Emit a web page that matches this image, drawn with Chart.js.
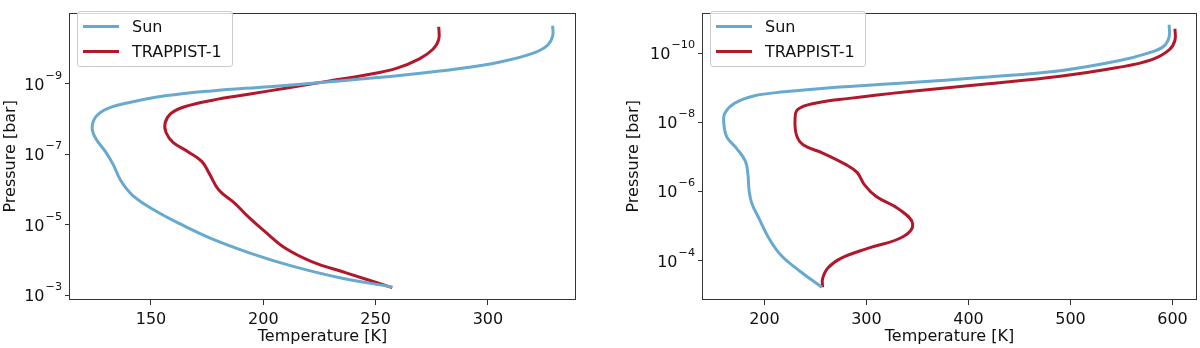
<!DOCTYPE html>
<html>
<head>
<meta charset="utf-8">
<script src="https://cdn.jsdelivr.net/npm/chart.js@4.4.1/dist/chart.umd.min.js"></script>
<style>
  body { margin: 0; background: #fff; }
  #wrap { position: relative; width: 1200px; height: 348px; }
  canvas { position: absolute; top: 0; }
  .legend {
    position: absolute; background: rgba(255,255,255,0.8);
    border: 1px solid #cccccc; border-radius: 3px;
    font-family: 'DejaVu Sans', sans-serif; font-size: 16px; color: #111;
    box-sizing: border-box; width: 156px; height: 56px;
  }
  .row { position: absolute; left: 5px; height: 20px; display: flex; align-items: center; }
  .row span.h { display: inline-block; width: 36px; height: 3px; margin-right: 13px; }
</style>
</head>
<body>
<div id="wrap">
  <canvas id="left" width="600" height="348" style="left:0"></canvas>
  <canvas id="right" width="600" height="348" style="left:600px"></canvas>
  <div class="legend" style="left:77px; top:11px">
    <div class="row" style="top:4px"><span class="h" style="background:#67a9cf"></span>Sun</div>
    <div class="row" style="top:29px"><span class="h" style="background:#b2182b"></span>TRAPPIST-1</div>
  </div>
  <div class="legend" style="left:710px; top:11px">
    <div class="row" style="top:4px"><span class="h" style="background:#67a9cf"></span>Sun</div>
    <div class="row" style="top:29px"><span class="h" style="background:#b2182b"></span>TRAPPIST-1</div>
  </div>
</div>
<script>
// left panel: temperature [K] and log10 pressure [bar]
const leftSunT = [328.8, 328.8, 326.1, 319.2, 305.4, 288.4, 262.7, 228.3, 202.6, 176.9, 156.3, 140.9, 130.6, 125.5, 123.8, 125.5, 129.8, 133.2, 136.6, 141.8, 151.2, 163.2, 176.9, 194.1, 212.9, 233.5, 257.4];
const leftSunLogP = [-10.65, -10.35, -10.07, -9.85, -9.62, -9.44, -9.25, -9.05, -8.92, -8.80, -8.66, -8.48, -8.30, -8.07, -7.75, -7.44, -7.07, -6.71, -6.25, -5.84, -5.43, -5.02, -4.61, -4.20, -3.83, -3.51, -3.24];
const leftTrapT = [278.1, 278.1, 275.5, 269.5, 259.2, 245.5, 228.3, 211.2, 194.1, 176.9, 164.9, 158.9, 156.3, 156.7, 159.8, 166.6, 172.6, 176.1, 180.3, 187.2, 193.0, 200.9, 209.5, 221.5, 236.9, 257.4];
const leftTrapLogP = [-10.62, -10.26, -9.98, -9.71, -9.44, -9.25, -9.07, -8.89, -8.71, -8.53, -8.35, -8.16, -7.89, -7.62, -7.34, -7.07, -6.80, -6.44, -5.98, -5.62, -5.25, -4.80, -4.35, -3.96, -3.64, -3.22];

// right panel
const rightSunT = [596.7, 596.7, 591.1, 576.1, 546.1, 489.8, 414.6, 339.6, 264.5, 219.5, 189.4, 170.7, 161.3, 160.1, 163.2, 172.5, 181.2, 183.8, 184.9, 187.6, 195.0, 204.5, 215.8, 234.5, 256.3];
const rightSunLogP = [-10.82, -10.47, -10.19, -10.0, -9.77, -9.49, -9.30, -9.14, -9.00, -8.88, -8.76, -8.55, -8.27, -8.0, -7.57, -7.25, -6.88, -6.50, -6.04, -5.66, -5.20, -4.64, -4.17, -3.70, -3.23];
const rightTrapT = [602.4, 602.4, 596.7, 579.8, 546.1, 489.8, 414.6, 339.6, 283.3, 249.5, 232.7, 230.0, 231.5, 238.3, 257.0, 279.5, 290.8, 298.3, 309.6, 332.1, 345.3, 335.8, 302.0, 275.8, 262.6, 257.0, 257.0];
const rightTrapLogP = [-10.70, -10.37, -10.09, -9.81, -9.58, -9.33, -9.10, -8.88, -8.69, -8.55, -8.37, -8.09, -7.62, -7.34, -7.11, -6.78, -6.55, -6.18, -5.85, -5.48, -5.06, -4.69, -4.36, -4.08, -3.80, -3.48, -3.23];

const leftXTicks = [150, 200, 250, 300];
const leftYTicks = [1e-9, 1e-7, 1e-5, 1e-3];
const rightXTicks = [200, 300, 400, 500, 600];
const rightYTicks = [1e-10, 1e-8, 1e-6, 1e-4];

const seriesNames = ['Sun', 'TRAPPIST-1'];
const seriesColors = ['#67a9cf', '#b2182b'];

const FONT = "'DejaVu Sans', sans-serif";
Chart.defaults.font.family = FONT;
Chart.defaults.font.size = 16;
Chart.defaults.color = '#111';

const sup = {'-': '\u207B', '0': '\u2070', '1': '\u00B9', '2': '\u00B2', '3': '\u00B3', '4': '\u2074',
  '5': '\u2075', '6': '\u2076', '7': '\u2077', '8': '\u2078', '9': '\u2079'};

function toPoints(ts, logs) {
  return ts.map((t, i) => ({x: t, y: Math.pow(10, logs[i])}));
}

const framePlugin = {
  id: 'frame',
  afterDraw(chart) {
    const a = chart.chartArea, ctx = chart.ctx;
    ctx.save();
    ctx.strokeStyle = '#333';
    ctx.lineWidth = 1;
    ctx.strokeRect(Math.round(a.left) + 0.5, Math.round(a.top) + 0.5,
      Math.round(a.right - a.left) - 1, Math.round(a.bottom - a.top) - 1);
    ctx.restore();
  }
};

// y tick labels drawn like matplotlib mathtext: "10" plus a raised, smaller exponent
const powerLabels = {
  id: 'powerLabels',
  afterDraw(chart) {
    const ctx = chart.ctx, y = chart.scales.y, right = chart.chartArea.left - 7;
    ctx.save();
    ctx.fillStyle = '#111';
    ctx.textBaseline = 'alphabetic';
    ctx.textAlign = 'left';
    y.ticks.forEach(t => {
      const py = y.getPixelForValue(t.value);
      const exp = String(Math.round(Math.log10(t.value))).replace('-', '\u2212');
      ctx.font = '11.2px ' + FONT;
      const we = ctx.measureText(exp).width;
      ctx.font = '16px ' + FONT;
      const wb = ctx.measureText('10').width;
      const x0 = right - we - wb - 1;
      ctx.fillText('10', x0, py + 6);
      ctx.font = '11.2px ' + FONT;
      ctx.fillText(exp, x0 + wb + 1, py - 5);
    });
    ctx.restore();
  }
};

function makeChart(id, sun, trap, xr, yr, xTicks, yTicks, pad, yWidth) {
  new Chart(document.getElementById(id), {
    type: 'scatter',
    data: {
      datasets: [sun, trap].map((d, i) => ({
        label: seriesNames[i],
        data: d,
        showLine: true,
        borderColor: seriesColors[i],
        borderWidth: 3,
        pointRadius: 0,
        tension: 0.4,
        fill: false
      }))
    },
    options: {
      responsive: false,
      animation: false,
      layout: {padding: pad},
      plugins: {legend: {display: false}, tooltip: {enabled: false}},
      scales: {
        x: {
          type: 'linear', min: xr[0], max: xr[1],
          afterBuildTicks: s => { s.ticks = xTicks.map(v => ({value: v})); },
          afterFit: s => { s.height = 48; },
          grid: {drawOnChartArea: false, drawTicks: true, tickLength: 5, color: '#333'},
          border: {display: false},
          ticks: {padding: 5, maxRotation: 0, callback: v => String(v)},
          title: {display: true, text: 'Temperature [K]', padding: {top: 0, bottom: 2}}
        },
        y: {
          type: 'logarithmic', reverse: true, min: yr[0], max: yr[1],
          afterBuildTicks: s => { s.ticks = yTicks.map(v => ({value: v})); },
          afterFit: s => { s.width = yWidth; },
          grid: {drawOnChartArea: false, drawTicks: true, tickLength: 4, color: '#333'},
          border: {display: false},
          ticks: {
            padding: 3,
            color: 'rgba(0,0,0,0)',
            callback: v => '10' + String(Math.round(Math.log10(v))).split('').map(c => sup[c]).join('')
          },
          title: {display: true, text: 'Pressure [bar]', padding: {top: 1, bottom: 0}}
        }
      }
    },
    plugins: [framePlugin, powerLabels]
  });
}

makeChart('left', toPoints(leftSunT, leftSunLogP), toPoints(leftTrapT, leftTrapLogP),
  [113.5, 339.2], [Math.pow(10, -11.02), Math.pow(10, -2.87)], leftXTicks, leftYTicks,
  {left: 0, right: 24, top: 3, bottom: 0}, 69);

makeChart('right', toPoints(rightSunT, rightSunLogP), toPoints(rightTrapT, rightTrapLogP),
  [138.8, 624.0], [Math.pow(10, -11.17), Math.pow(10, -2.86)], rightXTicks, rightYTicks,
  {left: 23, right: 3, top: 3, bottom: 0}, 79);
</script>
</body>
</html>
